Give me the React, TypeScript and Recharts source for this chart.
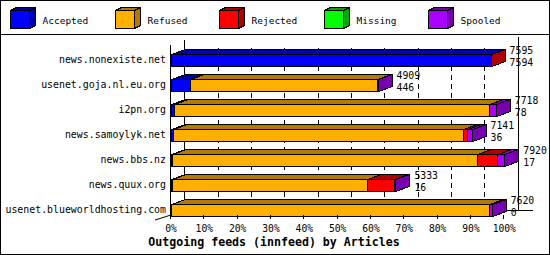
import React from 'react';
import { BarChart, Bar, XAxis, YAxis, CartesianGrid, LabelList } from 'recharts';

const hosts = [
  'news.nonexiste.net',
  'usenet.goja.nl.eu.org',
  'i2pn.org',
  'news.samoylyk.net',
  'news.bbs.nz',
  'news.quux.org',
  'usenet.blueworldhosting.com',
];
const accepted = [7594, 446, 78, 36, 17, 16, 0];
const refused = [0, 4439, 7480, 6906, 7243, 4646, 7559];
const rejected = [1, 0, 0, 80, 480, 641, 0];
const missing = [0, 0, 0, 0, 0, 0, 0];
const spooled = [0, 24, 160, 119, 180, 30, 61];

const seriesKeys = ['accepted', 'refused', 'rejected', 'missing', 'spooled'];
const seriesNames = ['Accepted', 'Refused', 'Rejected', 'Missing', 'Spooled'];
const frontColors = ['#0000FF', '#FFAF00', '#FF0000', '#00FF00', '#AA00FF'];
const darkColors = ['#0000A8', '#B27A00', '#B20000', '#00A800', '#7700B0'];
const tickSteps = [0, 1, 2, 3, 4, 5, 6, 7, 8, 9, 10];

const seriesValues = [accepted, refused, rejected, missing, spooled];
const totals = hosts.map((_, i) => seriesValues.reduce((s, arr) => s + arr[i], 0));
const MAX = Math.max(...totals);
const xTicks = tickSteps.map((k) => (MAX * k) / 10);

const data = hosts.map((host, i) => ({
  host,
  accepted: accepted[i],
  refused: refused[i],
  rejected: rejected[i],
  missing: missing[i],
  spooled: spooled[i],
  labelText: `${totals[i]}\n${accepted[i]}`,
}));

const DX = 14;
const DY = 5;
const FONT = '"DejaVu Sans Mono", "Liberation Mono", monospace';

const make3D = (key: string, front: string, dark: string) => (props: any) => {
  const v = props?.payload?.[key];
  if (!v) return <g />;
  const x0 = Math.round(props.x) + 0.5;
  const x1 = Math.round(props.x + props.width) + 0.5;
  const y0 = Math.round(props.y) + 0.5;
  const y1 = Math.round(props.y + props.height) + 0.5;
  return (
    <g shapeRendering="crispEdges">
      <polygon points={`${x0},${y0} ${x1},${y0} ${x1},${y1} ${x0},${y1}`} fill={front} stroke="#000" strokeWidth={1} />
      <polygon points={`${x0},${y0} ${x0 + DX},${y0 - DY} ${x1 + DX},${y0 - DY} ${x1},${y0}`} fill={dark} stroke="#000" strokeWidth={1} />
      <polygon points={`${x1},${y0} ${x1 + DX},${y0 - DY} ${x1 + DX},${y1 - DY} ${x1},${y1}`} fill={dark} stroke="#000" strokeWidth={1} />
    </g>
  );
};

const XTick = (props: any) => {
  const { x, payload } = props;
  const pct = Math.round((payload.value / MAX) * 100);
  const lx = Math.round(x) - 0.5;
  return (
    <g>
      <line x1={lx} x2={lx} y1={215} y2={219} stroke="#000" shapeRendering="crispEdges" />
      <text x={x} y={231.5} textAnchor="middle" fontFamily={FONT} fontSize={9.7} fill="#000">
        {`${pct}%`}
      </text>
    </g>
  );
};

const YTick = (props: any) => {
  const { y, payload } = props;
  return (
    <text x={166} y={y + 3.6} textAnchor="end" fontFamily={FONT} fontSize={9.9} fill="#000">
      {payload.value}
    </text>
  );
};

const gridLine = (p: any) => {
  const x = Math.floor(p.x1 + DX) + 0.5;
  const isEdge = p.index === 0 || Math.abs(p.x1 - (p.offset ? p.offset.left + p.offset.width : -999)) < 1;
  if (p.index === 0 || p.index === tickSteps.length - 1 || isEdge) return <g key={p.key || `g${p.index}`} />;
  return (
    <line
      key={p.key || `g${p.index}`}
      x1={x}
      x2={x}
      y1={48}
      y2={210}
      stroke="#000"
      strokeDasharray="5 4"
      shapeRendering="crispEdges"
    />
  );
};

const RightLabel = (props: any) => {
  const { x, y, width, value } = props;
  const [a, b] = String(value).split('\n');
  const tx = x + width + 19;
  return (
    <g>
      <text x={tx} y={y + 0.6} fontFamily={FONT} fontSize={9.8} fill="#000">{a}</text>
      <text x={tx} y={y + 12.3} fontFamily={FONT} fontSize={9.8} fill="#000">{b}</text>
    </g>
  );
};

const Underlay = () => (
  <svg width={550} height={255} style={{ position: 'absolute', left: 0, top: 0 }} shapeRendering="crispEdges">
    <rect x={0.5} y={0.5} width={549} height={254} fill="#fff" stroke="#000" />
    <line x1={0} x2={550} y1={34.5} y2={34.5} stroke="#000" />
    {seriesNames.map((name, i) => {
      const x0 = Math.round(10 + i * 104.5) + 0.5;
      const y0 = 10.5;
      const y1 = 28.5;
      const x1 = x0 + 19;
      return (
        <g key={name}>
          <polygon points={`${x0},${y0} ${x1},${y0} ${x1},${y1} ${x0},${y1}`} fill={frontColors[i]} stroke="#000" />
          <polygon points={`${x0},${y0} ${x0 + 6},${y0 - 3} ${x1 + 6},${y0 - 3} ${x1},${y0}`} fill={darkColors[i]} stroke="#000" />
          <polygon points={`${x1},${y0} ${x1 + 6},${y0 - 3} ${x1 + 6},${y1 - 3} ${x1},${y1}`} fill={darkColors[i]} stroke="#000" />
          <text x={x0 + 32} y={23.5} fontFamily={FONT} fontSize={9.5} fill="#000" shapeRendering="auto">
            {name}
          </text>
        </g>
      );
    })}
    <line x1={170.5} x2={170.5} y1={45} y2={215} stroke="#000" />
    <line x1={184.5} x2={184.5} y1={40} y2={211} stroke="#000" />
    <line x1={518.5} x2={518.5} y1={37} y2={211} stroke="#000" />
    <line x1={185} x2={533} y1={210.5} y2={210.5} stroke="#000" />
    <line x1={155} x2={171} y1={220} y2={215} stroke="#000" shapeRendering="auto" />
    <text x={274} y={245.5} textAnchor="middle" fontFamily={FONT} fontSize={11.6} fontWeight="bold" fill="#000" shapeRendering="auto">
      Outgoing feeds (innfeed) by Articles
    </text>
  </svg>
);

export default function App() {
  return (
    <div style={{ position: 'absolute', left: 0, top: 0, width: 550, height: 255, background: '#fff' }}>
      <Underlay />
      <div style={{ position: 'absolute', left: 0, top: 0 }}>
        <BarChart
          width={550}
          height={255}
          data={data}
          layout="vertical"
          margin={{ top: 46.5, right: 45.7, bottom: 3.5, left: 0 }}
          barCategoryGap={0}
          barSize={12}
        >
          <CartesianGrid horizontal={false} vertical={gridLine} />
          <XAxis
            type="number"
            domain={[0, MAX]}
            ticks={xTicks}
            interval={0}
            axisLine={false}
            tickLine={false}
            tick={<XTick />}
            height={30}
          />
          <YAxis
            type="category"
            dataKey="host"
            width={171}
            interval={0}
            axisLine={false}
            tickLine={false}
            tick={<YTick />}
          />
          {seriesKeys.map((key, i) => (
            <Bar
              key={key}
              dataKey={key}
              name={seriesNames[i]}
              stackId="a"
              fill={frontColors[i]}
              isAnimationActive={false}
              shape={make3D(key, frontColors[i], darkColors[i])}
            >
              {i === seriesKeys.length - 1 ? (
                <LabelList dataKey="labelText" content={<RightLabel />} />
              ) : null}
            </Bar>
          ))}
        </BarChart>
      </div>
    </div>
  );
}
